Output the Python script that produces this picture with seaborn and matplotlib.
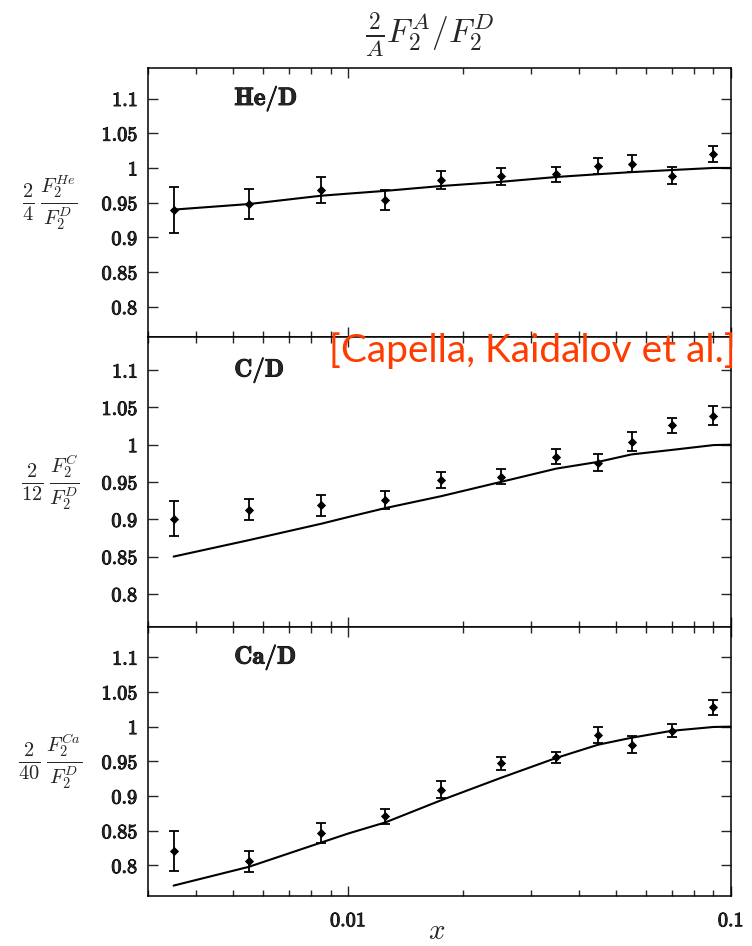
import numpy as np
import pandas as pd
import matplotlib
matplotlib.use("Agg")
import matplotlib.pyplot as plt
import matplotlib.patheffects as pe
import seaborn as sns
from matplotlib.ticker import FixedLocator, FuncFormatter, NullFormatter

# ---------------- data ----------------
x_data = [0.0035, 0.0055, 0.0085, 0.0125, 0.0175, 0.025, 0.035, 0.045, 0.055, 0.070, 0.090]
he_y = [0.939, 0.948, 0.968, 0.954, 0.982, 0.988, 0.991, 1.003, 1.006, 0.989, 1.020]
he_err = [0.033, 0.022, 0.019, 0.014, 0.013, 0.012, 0.011, 0.012, 0.012, 0.012, 0.012]
c_y = [0.901, 0.913, 0.919, 0.926, 0.953, 0.957, 0.984, 0.976, 1.004, 1.026, 1.039]
c_err = [0.024, 0.014, 0.014, 0.012, 0.011, 0.010, 0.010, 0.011, 0.013, 0.010, 0.013]
ca_y = [0.821, 0.806, 0.847, 0.871, 0.909, 0.947, 0.956, 0.988, 0.974, 0.994, 1.028]
ca_err = [0.029, 0.015, 0.014, 0.011, 0.012, 0.009, 0.008, 0.011, 0.012, 0.0095, 0.011]

x_curve = [0.0035, 0.0055, 0.0085, 0.01, 0.0125, 0.0175, 0.025, 0.035, 0.045, 0.055, 0.07, 0.09, 0.1]
he_curve = [0.940, 0.948, 0.960, 0.963, 0.967, 0.974, 0.980, 0.987, 0.991, 0.994, 0.997, 1.0, 1.0]
c_curve = [0.850, 0.872, 0.894, 0.903, 0.915, 0.931, 0.950, 0.968, 0.977, 0.987, 0.993, 0.9995, 1.0]
ca_curve = [0.771, 0.798, 0.833, 0.846, 0.862, 0.894, 0.926, 0.955, 0.974, 0.984, 0.994, 0.9995, 1.0]

panel_names = ["He/D", "C/D", "Ca/D"]
ylabels = [r"$\frac{2}{4}\,\frac{F_2^{He}}{F_2^{D}}$",
           r"$\frac{2}{12}\,\frac{F_2^{C}}{F_2^{D}}$",
           r"$\frac{2}{40}\,\frac{F_2^{Ca}}{F_2^{D}}$"]
y_ticks = [0.8, 0.85, 0.9, 0.95, 1.0, 1.05, 1.1]
x_major = [0.01, 0.1]
x_minor = [0.003, 0.004, 0.005, 0.006, 0.007, 0.008, 0.009,
           0.02, 0.03, 0.04, 0.05, 0.06, 0.07, 0.08, 0.09]
title_text = r"$\frac{2}{A}F_2^A/F_2^D$"
credit_text = "[Capella, Kaidalov et al.]"

# ---------------- style ----------------
sns.set_style("ticks")
plt.rcParams.update({
    "mathtext.fontset": "cm",
    "font.family": ["DejaVu Serif"],
    "axes.linewidth": 1.1,
    "xtick.direction": "in",
    "ytick.direction": "in",
    "xtick.top": True,
    "ytick.right": True,
    "axes.edgecolor": "black",
})

bold_fx = [pe.withStroke(linewidth=0.7, foreground="black")]

fig = plt.figure(figsize=(7.52, 9.46), dpi=100)
gs = fig.add_gridspec(3, 1, height_ratios=[269, 289, 269], hspace=0,
                      left=148 / 752, right=731 / 752,
                      top=1 - 68 / 946, bottom=1 - 896 / 946)

series = [(he_y, he_err, he_curve), (c_y, c_err, c_curve), (ca_y, ca_err, ca_curve)]
axes = []
for i, (yv, ye, yc) in enumerate(series):
    ax = fig.add_subplot(gs[i])
    axes.append(ax)
    dfc = pd.DataFrame({"x": x_curve, "y": yc})
    sns.lineplot(data=dfc, x="x", y="y", ax=ax, color="black", linewidth=1.5,
                 sort=False, estimator=None)
    dfp = pd.DataFrame({"x": x_data, "y": yv, "e": ye})
    ax.errorbar(dfp["x"], dfp["y"], yerr=dfp["e"], fmt="none", ecolor="black",
                elinewidth=1.3, capsize=3.8, capthick=1.3)
    sns.scatterplot(data=dfp, x="x", y="y", ax=ax, color="black", s=22,
                    marker="D", edgecolor="black", linewidth=0, zorder=5)
    ax.set_xscale("log")
    ax.set_xlim(0.003, 0.1)
    ax.set_ylim(0.756, 1.144)
    ax.set_xlabel("")
    ax.set_ylabel("")
    ax.yaxis.set_major_locator(FixedLocator(y_ticks))
    ax.yaxis.set_major_formatter(FuncFormatter(lambda v, p: r"$\mathbf{%g}$" % v))
    ax.xaxis.set_major_locator(FixedLocator(x_major))
    ax.xaxis.set_minor_locator(FixedLocator(x_minor))
    ax.xaxis.set_minor_formatter(NullFormatter())
    ax.tick_params(axis="y", which="major", length=7, width=1.0, labelsize=14.5, pad=7)
    ax.tick_params(axis="x", which="major", length=7, width=1.0, labelsize=14.5, pad=11)
    ax.tick_params(axis="x", which="minor", length=4, width=1.0)
    if i < 2:
        ax.xaxis.set_major_formatter(NullFormatter())
    else:
        ax.xaxis.set_major_formatter(FuncFormatter(lambda v, p: r"$\mathbf{%g}$" % v))
    for sp in ax.spines.values():
        sp.set_visible(True)
    ax.text(0.148, 0.887, r"$\mathbf{%s}$" % panel_names[i], transform=ax.transAxes,
            fontsize=18, ha="left", va="center", path_effects=bold_fx)
    ax.text(-0.168, 0.5, ylabels[i], transform=ax.transAxes, fontsize=21,
            ha="center", va="center")

fig.canvas.draw()
for ax in axes:
    for lab in ax.get_yticklabels() + ax.get_xticklabels():
        lab.set_path_effects(bold_fx)

fig.text(437 / 752, 1 - 931 / 946, r"$x$", fontsize=21, ha="center", va="center")
fig.text(430 / 752, 1 - 35 / 946, title_text, fontsize=24, ha="center", va="center")
fig.text(736 / 752, 1 - 351 / 946, credit_text, fontsize=28, color="#ff3c00",
         ha="right", va="center", family=["Lato", "DejaVu Sans"], zorder=20)

fig.savefig("out.png", dpi=100)
